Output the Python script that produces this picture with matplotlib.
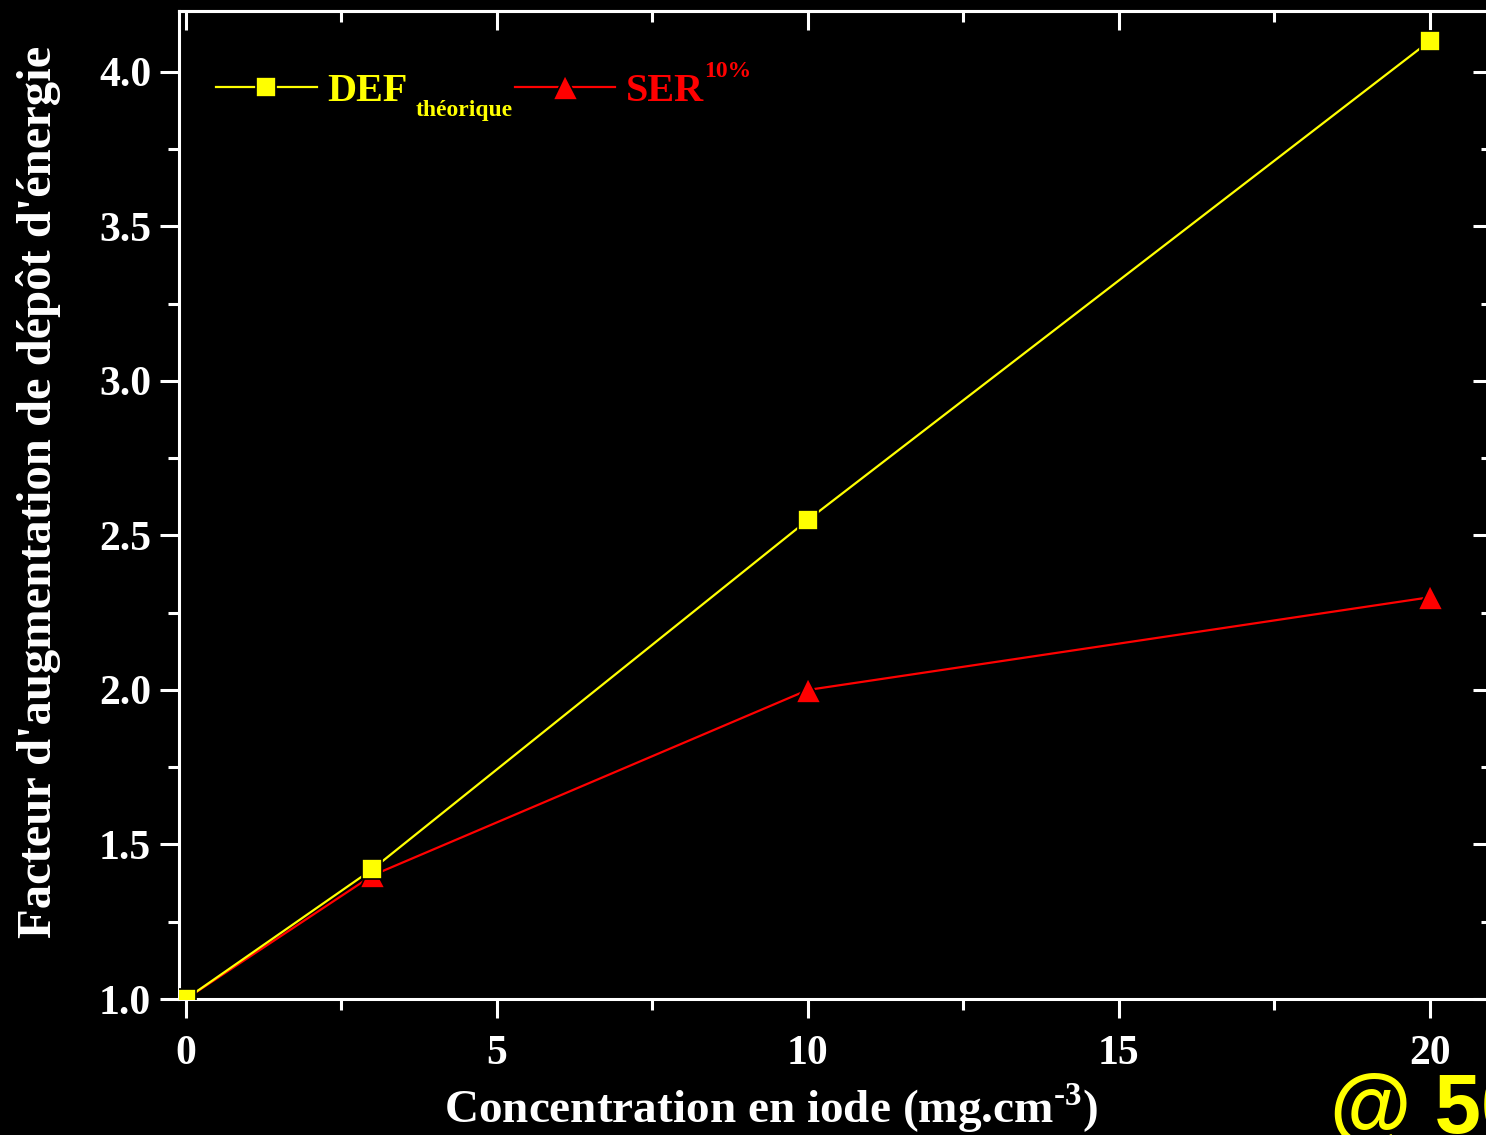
import matplotlib.pyplot as plt
from matplotlib.ticker import MultipleLocator

# data
conc = [0, 3, 10, 20]
def_theorique = [1.0, 1.42, 2.55, 4.10]
ser_10 = [1.0, 1.40, 2.00, 2.30]

plt.rcParams['font.family'] = 'Liberation Serif'
plt.rcParams['font.weight'] = 'bold'
plt.rcParams['axes.labelweight'] = 'bold'
plt.rcParams['mathtext.fontset'] = 'custom'
plt.rcParams['mathtext.rm'] = 'Liberation Serif:bold'
plt.rcParams['mathtext.bf'] = 'Liberation Serif:bold'

W, H = 1486, 1135
fig = plt.figure(figsize=(W / 100, H / 100), dpi=100, facecolor='black')
# right spine sits just outside the picture, as in the reference
ax = fig.add_axes([179 / W, (H - 999) / H, (1492 - 179) / W, (999 - 11) / H])
ax.set_facecolor('black')

ax.plot(conc, def_theorique, color='yellow', lw=1.6, marker='s', ms=14,
        mfc='yellow', mec='black', mew=1.2, label='DEF', zorder=4)
ax.plot(conc, ser_10, color='red', lw=1.6, marker='^', ms=18,
        mfc='red', mec='black', mew=1.2, label='SER', zorder=3)

ax.set_xlim(-0.11, 21.0)
ax.set_ylim(1.0, 4.197)

for s in ax.spines.values():
    s.set_color('white')
    s.set_linewidth(2.2)

ax.xaxis.set_major_locator(MultipleLocator(5))
ax.xaxis.set_minor_locator(MultipleLocator(2.5))
ax.yaxis.set_major_locator(MultipleLocator(0.5))
ax.yaxis.set_minor_locator(MultipleLocator(0.25))
ax.tick_params(which='both', direction='out', colors='white', width=2.2,
               labelsize=30, labelcolor='white')
ax.tick_params(which='major', length=14)
ax.tick_params(which='minor', length=8)
ax.tick_params(axis='x', pad=12)
ax.tick_params(axis='y', pad=6)
ax.yaxis.set_major_formatter(lambda v, p: f'{v:.1f}')

# top and right: ticks pointing inwards, no labels
top = ax.secondary_xaxis('top')
top.xaxis.set_major_locator(MultipleLocator(5))
top.xaxis.set_minor_locator(MultipleLocator(2.5))
top.tick_params(which='both', direction='in', colors='white', width=2.2, labeltop=False)
top.tick_params(which='major', length=14)
top.tick_params(which='minor', length=8)
right = ax.secondary_yaxis('right')
right.yaxis.set_major_locator(MultipleLocator(0.5))
right.yaxis.set_minor_locator(MultipleLocator(0.25))
right.tick_params(which='both', direction='in', colors='white', width=2.2, labelright=False)
right.tick_params(which='major', length=14)
right.tick_params(which='minor', length=8)
for sa in (top, right):
    for s in sa.spines.values():
        s.set_color('white')
        s.set_linewidth(2.2)

ax.set_xlabel(r'Concentration en iode (mg.cm$^{\text{-3}}$)', color='white',
              fontsize=34, va='center')
ax.xaxis.set_label_coords(0.451, -0.110)
ax.set_ylabel("Facteur d'augmentation de dépôt d'énergie", color='white',
              fontsize=35, va='center')
ax.yaxis.set_label_coords(-0.107, 0.513)

leg = ax.legend(loc='center left', ncol=2, frameon=False, fontsize=29,
                handlelength=2.5, handletextpad=0.26, columnspacing=2.66,
                labelcolor='linecolor', bbox_to_anchor=(37 / 1313, 0.919),
                borderaxespad=0, borderpad=0)
t_def, t_ser = leg.get_texts()
# subscript / superscript attached to the legend labels
ax.annotate('théorique', xy=(1, 0), xycoords=t_def, xytext=(8, -6),
            textcoords='offset pixels', color='yellow', fontsize=17,
            ha='left', va='baseline', zorder=10)
ax.annotate('10%', xy=(1, 0), xycoords=t_ser, xytext=(0, 33),
            textcoords='offset pixels', color='red', fontsize=17,
            ha='left', va='baseline', zorder=10)

fig.text(1330 / W, 2 / H, '@ 50 keV', color='yellow', fontsize=60,
         family='Liberation Sans', weight='bold', ha='left', va='baseline')

fig.savefig('out.png', dpi=100, facecolor='black')
